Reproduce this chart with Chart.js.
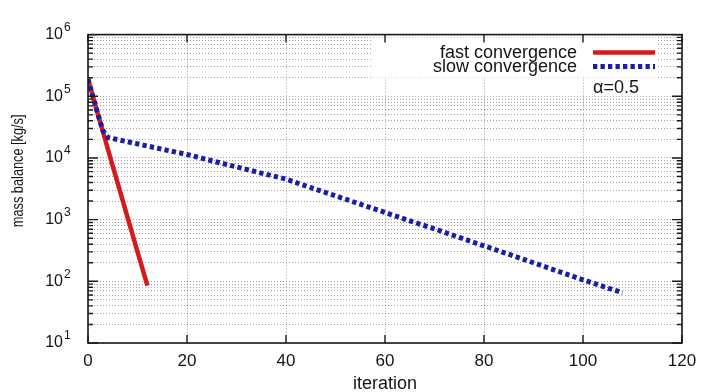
<!DOCTYPE html>
<html><head><meta charset="utf-8">
<script src="https://cdn.jsdelivr.net/npm/chart.js@4.4.1/dist/chart.umd.min.js"></script>
<style>html,body{margin:0;padding:0;background:#fff;}#wrap{width:718px;height:392px;position:relative;}</style>
</head><body><div id="wrap"><canvas id="c"></canvas></div>
<script>
// ---- data ----
const fastIter   = [0, 1, 2, 3, 4, 5, 6, 7, 8, 9, 10, 11, 12];
const fastValues = [190000, 98000, 51000, 27000, 14000, 7400, 3900, 2050, 1080, 570, 300, 160, 85];
const slowIter   = [0, 1, 2, 3, 4, 8, 12, 16, 20, 25, 30, 35, 40, 45, 50, 55, 60, 65, 70, 75, 80, 85, 90, 95, 100, 104, 108];
const slowValues = [190000, 98000, 51000, 28000, 21500, 18300, 15600, 13300, 11400, 9000, 7160, 5690, 4540, 3300, 2430, 1780, 1310, 955, 710, 515, 376, 275, 200, 145, 106, 83, 65];
const seriesLabels = ['fast convergence', 'slow convergence'];
const xTickValues = [0, 20, 40, 60, 80, 100, 120];
const yDecades = [10, 100, 1000, 10000, 100000, 1000000];
const annotationText = 'α=0.5';
const xTitle = 'iteration';
const yTitle = 'mass balance [kg/s]';

const FONT = '"Liberation Sans", Arial, Helvetica, sans-serif';
const RED = '#d41a1a', BLUE = '#1c1caa';

const yTickValues = [];
yDecades.forEach((d, i) => {
  if (i < yDecades.length - 1) { for (let m = 1; m <= 9; m++) yTickValues.push(m * d); }
  else yTickValues.push(d);
});
const isPow10 = v => Math.abs(Math.log10(v) - Math.round(Math.log10(v))) < 1e-9;

const deco = {
  id: 'deco',
  beforeDatasetsDraw(chart) {
    const {ctx, chartArea: a} = chart;
    ctx.save();
    ctx.fillStyle = '#fff';
    ctx.fillRect(a.right - 309, a.top + 3, 284, 40);
    ctx.restore();
  },
  afterDraw(chart) {
    const {ctx, chartArea: a} = chart;
    const xs = chart.scales.x, ys = chart.scales.y;
    ctx.save();
    // frame
    ctx.strokeStyle = '#1a1a1a'; ctx.lineWidth = 1.6;
    ctx.strokeRect(a.left, a.top, a.right - a.left, a.bottom - a.top);
    // x ticks (bottom & top, inward)
    ctx.lineWidth = 1.4;
    ctx.beginPath();
    xTickValues.forEach(v => {
      const px = xs.getPixelForValue(v);
      ctx.moveTo(px, a.bottom); ctx.lineTo(px, a.bottom - 8);
      ctx.moveTo(px, a.top); ctx.lineTo(px, a.top + 8);
    });
    // y ticks (left & right)
    yTickValues.forEach(v => {
      const py = ys.getPixelForValue(v);
      const len = isPow10(v) ? 10 : 5;
      ctx.moveTo(a.left, py); ctx.lineTo(a.left + len, py);
      ctx.moveTo(a.right, py); ctx.lineTo(a.right - len, py);
    });
    ctx.stroke();
    // exponents of y labels
    ctx.fillStyle = '#151515';
    ctx.font = '12px ' + FONT;
    ctx.textAlign = 'left'; ctx.textBaseline = 'middle';
    yDecades.forEach(v => {
      const py = ys.getPixelForValue(v);
      ctx.fillText(String(Math.round(Math.log10(v))), a.left - 24, py - 7);
    });
    // y title (narrow, tall like the reference)
    ctx.save();
    ctx.translate(18, (a.top + a.bottom) / 2 - 18);
    ctx.rotate(-Math.PI / 2);
    ctx.scale(0.85, 1.1);
    ctx.font = '15px ' + FONT;
    ctx.textAlign = 'center'; ctx.textBaseline = 'middle';
    ctx.fillText(yTitle, 0, 0);
    ctx.restore();
    // legend
    const ds = chart.data.datasets;
    const tx = a.right - 105, lx0 = a.right - 89, lx1 = a.right - 27;
    const rows = [a.top + 18, a.top + 32];
    ctx.font = '18px ' + FONT;
    ctx.textAlign = 'right'; ctx.textBaseline = 'middle';
    [ds[1], ds[0]].forEach((d, i) => {
      ctx.fillStyle = '#151515';
      ctx.fillText(d.label, tx, rows[i]);
      ctx.beginPath();
      ctx.strokeStyle = d.borderColor; ctx.lineWidth = d.borderWidth;
      ctx.setLineDash(d.borderDash || []);
      ctx.moveTo(lx0, rows[i]); ctx.lineTo(lx1, rows[i]);
      ctx.stroke();
      ctx.setLineDash([]);
    });
    ctx.textAlign = 'left';
    ctx.fillStyle = '#151515';
    ctx.fillText(annotationText, lx0, a.top + 53);
    ctx.restore();
  }
};

const gridOpts = {color: 'rgba(100,100,100,0.6)', lineWidth: 1, drawTicks: false};
const borderOpts = {display: false, dash: [1, 2]};

new Chart(document.getElementById('c'), {
  type: 'line',
  data: {
    datasets: [
      {
        label: seriesLabels[1],
        data: slowIter.map((x, i) => ({x, y: slowValues[i]})),
        borderColor: BLUE, borderWidth: 5, borderDash: [4.3, 3.2], borderCapStyle: 'butt',
        pointRadius: 0, fill: false, tension: 0, order: 0
      },
      {
        label: seriesLabels[0],
        data: fastIter.map((x, i) => ({x, y: fastValues[i]})),
        borderColor: RED, borderWidth: 4.5, borderCapStyle: 'butt',
        pointRadius: 0, fill: false, tension: 0, order: 1
      }
    ]
  },
  options: {
    responsive: true, maintainAspectRatio: false, animation: false,
    layout: {padding: {top: 24, right: 36, left: 0, bottom: 0}},
    plugins: {legend: {display: false}, tooltip: {enabled: false}},
    scales: {
      x: {
        type: 'linear', min: 0, max: 120,
        border: {...borderOpts},
        grid: {...gridOpts},
        ticks: {stepSize: 20, color: '#151515', font: {family: FONT, size: 17}, padding: 8, maxRotation: 0},
        title: {display: true, text: xTitle, color: '#151515', font: {family: FONT, size: 18, lineHeight: 0.9}, padding: {top: 0, bottom: 0}},
        afterBuildTicks: s => { s.ticks = xTickValues.map(v => ({value: v})); },
        afterFit: s => { s.height = 49; }
      },
      y: {
        type: 'logarithmic', min: 10, max: 1000000,
        border: {...borderOpts},
        grid: {...gridOpts},
        ticks: {
          autoSkip: false, color: '#151515', font: {family: FONT, size: 16}, padding: 25,
          callback: v => (isPow10(v) ? '10' : '')
        },
        afterBuildTicks: s => { s.ticks = yTickValues.map(v => ({value: v, major: isPow10(v)})); },
        afterFit: s => { s.width = 88; }
      }
    }
  },
  plugins: [deco]
});
</script>
</body></html>
